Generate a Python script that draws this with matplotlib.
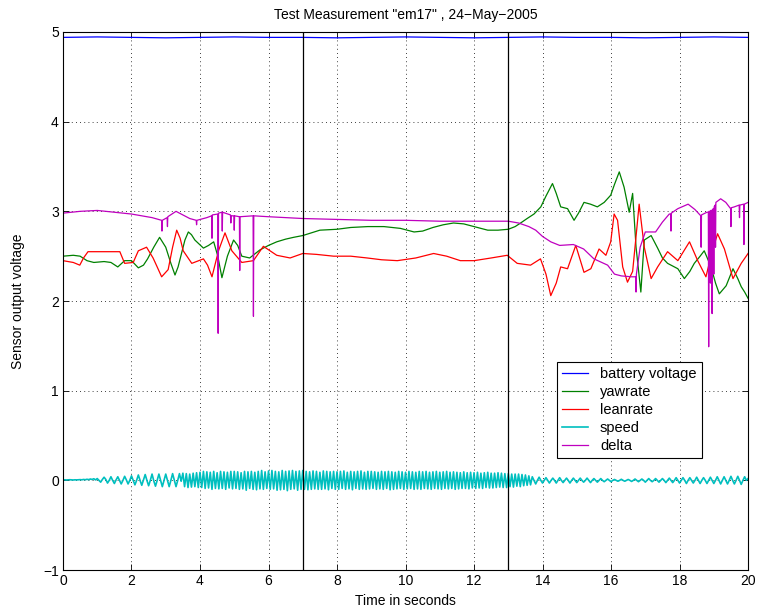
import numpy as np
import matplotlib
matplotlib.use("Agg")
import matplotlib.pyplot as plt

plt.rcParams['font.family'] = ['Liberation Sans', 'DejaVu Sans']

# ---- measurement traces (time in s, voltage in V) ----
battery_t = [0, 1, 2, 3, 4, 5, 6, 7, 8, 9, 10, 11, 12, 13, 14, 15, 16, 17, 18, 19, 20]
battery_v = [4.94, 4.945, 4.94, 4.935, 4.94, 4.945, 4.94, 4.94, 4.935, 4.94, 4.945,
             4.94, 4.935, 4.94, 4.945, 4.94, 4.94, 4.935, 4.94, 4.945, 4.94]

yaw_t = [0, 0.3, 0.5, 0.7, 0.9, 1.2, 1.4, 1.6, 1.8, 2.0, 2.2, 2.35, 2.47, 2.65, 2.82, 3.0,
         3.15, 3.27, 3.36, 3.46, 3.56, 3.66, 3.75, 3.85, 4.1, 4.25, 4.4, 4.52, 4.64, 4.8,
         4.98, 5.1, 5.22, 5.45, 5.75, 6.0, 6.24, 6.5, 6.73, 7.0, 7.5, 8.0, 8.4, 8.9,
         9.37, 9.85, 10.25, 10.5, 10.8, 11.1, 11.4, 11.7, 12.0, 12.4, 12.7, 13.0, 13.2,
         13.36, 13.55, 13.75, 13.95, 14.1, 14.29, 14.4, 14.53, 14.73, 14.92, 15.05,
         15.21, 15.4, 15.6, 15.8, 15.99, 16.1, 16.24, 16.38, 16.53, 16.63, 16.73, 16.87,
         16.97, 17.17, 17.36, 17.5, 17.65, 17.95, 18.14, 18.3, 18.43, 18.6, 18.72, 18.92,
         19.05, 19.16, 19.36, 19.56, 19.7, 19.8, 19.9, 20.0]
yaw_v = [2.50, 2.51, 2.50, 2.45, 2.43, 2.44, 2.43, 2.38, 2.45, 2.45, 2.37, 2.40, 2.47,
         2.60, 2.71, 2.60, 2.42, 2.29, 2.38, 2.53, 2.68, 2.77, 2.74, 2.68, 2.59, 2.62,
         2.66, 2.50, 2.26, 2.50, 2.68, 2.62, 2.50, 2.48, 2.57, 2.62, 2.66, 2.69, 2.71,
         2.73, 2.79, 2.80, 2.82, 2.83, 2.83, 2.81, 2.77, 2.78, 2.82, 2.85, 2.87, 2.86,
         2.83, 2.79, 2.79, 2.80, 2.83, 2.87, 2.92, 2.97, 3.05, 3.17, 3.31, 3.20, 3.05,
         3.03, 2.90, 2.98, 3.10, 3.08, 3.05, 3.10, 3.18, 3.30, 3.44, 3.27, 2.99, 3.20,
         2.60, 2.10, 2.68, 2.73, 2.59, 2.48, 2.42, 2.36, 2.25, 2.33, 2.42, 2.50, 2.56,
         2.38, 2.20, 2.08, 2.17, 2.36, 2.25, 2.16, 2.10, 2.03]

lean_t = [0, 0.3, 0.49, 0.6, 0.73, 1.2, 1.66, 1.8, 2.05, 2.2, 2.44, 2.63, 2.75, 2.88,
          3.07, 3.2, 3.32, 3.42, 3.51, 3.76, 4.1, 4.22, 4.35, 4.54, 4.73, 4.93, 5.22,
          5.56, 5.85, 6.24, 6.63, 7.0, 7.4, 7.9, 8.4, 8.88, 9.3, 9.76, 10.3, 10.82, 11.2,
          11.6, 12.0, 12.5, 12.97, 13.26, 13.65, 13.94, 14.1, 14.24, 14.4, 14.53, 14.73,
          14.97, 15.21, 15.41, 15.65, 15.85, 15.99, 16.09, 16.19, 16.34, 16.48, 16.63,
          16.75, 16.82, 16.97, 17.17, 17.36, 17.65, 17.95, 18.29, 18.53, 18.77, 18.95,
          19.11, 19.31, 19.56, 19.8, 20.0]
lean_v = [2.45, 2.43, 2.40, 2.48, 2.55, 2.55, 2.55, 2.42, 2.43, 2.56, 2.60, 2.48, 2.38,
          2.27, 2.35, 2.60, 2.79, 2.70, 2.56, 2.42, 2.47, 2.40, 2.27, 2.56, 2.76, 2.56,
          2.43, 2.45, 2.61, 2.51, 2.48, 2.53, 2.52, 2.50, 2.50, 2.48, 2.46, 2.45, 2.48,
          2.53, 2.50, 2.45, 2.45, 2.48, 2.51, 2.42, 2.40, 2.47, 2.30, 2.06, 2.20, 2.38,
          2.36, 2.62, 2.32, 2.36, 2.58, 2.51, 2.66, 2.97, 2.90, 2.38, 2.21, 2.33, 2.80,
          3.08, 2.60, 2.25, 2.38, 2.55, 2.45, 2.66, 2.45, 2.27, 2.55, 2.75, 2.58, 2.25,
          2.42, 2.53]

delta_t = [0, 0.5, 1.0, 1.5, 2.0, 2.3, 2.6, 2.88, 2.89, 2.90, 3.04, 3.05, 3.06, 3.3,
           3.5, 3.7, 3.89, 3.90, 3.91, 4.2, 4.34, 4.35, 4.36, 4.52, 4.53, 4.54, 4.64,
           4.65, 4.66, 4.89, 4.90, 4.91, 4.99, 5.00, 5.01, 5.15, 5.16, 5.17, 5.55, 5.56,
           5.57, 6.0, 6.5, 7.0, 8.0, 9.0, 10.0, 11.0, 12.0, 13.0, 13.3, 13.6, 13.8,
           14.0, 14.24, 14.5, 14.9, 15.2, 15.5, 15.9, 16.1, 16.3, 16.6, 16.72, 16.73,
           16.74, 16.85, 17.0, 17.3, 17.5, 17.7, 17.74, 17.75, 17.76, 17.95, 18.25,
           18.45, 18.62, 18.63, 18.64, 18.8, 18.84, 18.85, 18.86, 18.89, 18.90, 18.91,
           18.94, 18.95, 18.96, 18.99, 19.00, 19.01, 19.04, 19.05, 19.06, 19.2, 19.35,
           19.49, 19.50, 19.51, 19.6, 19.74, 19.75, 19.76, 19.87, 19.88, 19.89, 20.0]
delta_v = [2.98, 3.00, 3.01, 2.99, 2.97, 2.95, 2.93, 2.90, 2.78, 2.90, 2.93, 2.83, 2.94,
           3.00, 2.96, 2.92, 2.90, 2.85, 2.90, 2.93, 2.95, 2.70, 2.96, 2.97, 1.64, 2.98,
           2.99, 2.78, 2.99, 2.96, 2.87, 2.95, 2.95, 2.79, 2.95, 2.94, 2.34, 2.94, 2.95,
           1.83, 2.95, 2.94, 2.93, 2.92, 2.91, 2.90, 2.90, 2.89, 2.89, 2.89, 2.87, 2.83,
           2.79, 2.72, 2.66, 2.62, 2.63, 2.58, 2.47, 2.40, 2.30, 2.28, 2.27, 2.27, 2.10,
           2.30, 2.60, 2.77, 2.77, 2.88, 2.97, 2.97, 2.78, 2.98, 3.03, 3.08, 3.02, 2.95,
           2.60, 2.96, 2.99, 2.99, 1.49, 3.00, 3.00, 2.20, 3.01, 3.01, 1.86, 3.02, 3.03,
           2.30, 3.05, 3.07, 2.60, 3.10, 3.14, 3.10, 3.03, 2.83, 3.04, 3.05, 3.07, 2.93,
           3.07, 3.08, 2.63, 3.08, 3.10]

# speed trace, sampled every 0.05 s (one row per second)
speed_rows = [
    [0.005, 0.006, 0.004, 0.005, 0.007, 0.005, 0.004, 0.006, 0.005, 0.006,
     0.008, 0.006, 0.010, 0.007, 0.012, 0.008, 0.015, 0.010, 0.018, 0.005],
    [0.020, 0.000, -0.020, 0.010, 0.035, 0.010, -0.030, 0.000, 0.040, 0.000,
     -0.035, 0.005, 0.040, 0.000, -0.040, 0.000, 0.045, 0.005, -0.040, 0.000],
    [0.050, 0.000, -0.050, 0.000, 0.060, 0.000, -0.055, 0.005, 0.065, 0.000,
     -0.060, 0.000, 0.070, -0.005, -0.065, 0.000, 0.070, 0.000, -0.070, 0.000],
    [0.070, 0.000, -0.070, 0.000, 0.075, 0.000, -0.070, 0.000, 0.075, -0.010,
     0.080, -0.070, 0.075, -0.080, 0.070, -0.075, 0.080, -0.070, 0.085, -0.080],
    [0.090, -0.080, 0.100, -0.090, 0.095, -0.085, 0.090, -0.100, 0.100, -0.090,
     0.085, -0.095, 0.100, -0.090, 0.095, -0.100, 0.090, -0.085, 0.100, -0.095],
    [0.100, -0.090, 0.095, -0.100, 0.085, -0.095, 0.100, -0.110, 0.095, -0.090,
     0.100, -0.100, 0.090, -0.105, 0.100, -0.095, 0.110, -0.100, 0.095, -0.090],
    [0.105, -0.100, 0.110, -0.095, 0.100, -0.110, 0.095, -0.105, 0.110, -0.100,
     0.100, -0.115, 0.105, -0.100, 0.110, -0.095, 0.100, -0.110, 0.105, -0.100],
    [0.110, -0.100, 0.100, -0.105, 0.095, -0.100, 0.105, -0.095, 0.100, -0.100,
     0.090, -0.100, 0.105, -0.095, 0.100, -0.105, 0.095, -0.090, 0.100, -0.100],
    [0.095, -0.100, 0.100, -0.090, 0.105, -0.100, 0.090, -0.095, 0.100, -0.105,
     0.095, -0.090, 0.100, -0.100, 0.105, -0.095, 0.090, -0.100, 0.100, -0.095],
    [0.100, -0.090, 0.095, -0.100, 0.090, -0.095, 0.100, -0.100, 0.095, -0.090,
     0.100, -0.105, 0.095, -0.100, 0.090, -0.095, 0.100, -0.090, 0.095, -0.100],
    [0.090, -0.095, 0.100, -0.090, 0.095, -0.100, 0.090, -0.095, 0.100, -0.100,
     0.095, -0.090, 0.100, -0.095, 0.090, -0.100, 0.095, -0.090, 0.100, -0.095],
    [0.090, -0.100, 0.095, -0.090, 0.100, -0.095, 0.090, -0.090, 0.095, -0.100,
     0.090, -0.095, 0.085, -0.090, 0.095, -0.090, 0.085, -0.095, 0.090, -0.085],
    [0.085, -0.090, 0.090, -0.085, 0.080, -0.090, 0.085, -0.080, 0.090, -0.085,
     0.080, -0.085, 0.080, -0.080, 0.085, -0.075, 0.080, -0.080, 0.075, -0.080],
    [0.075, -0.070, 0.070, -0.075, 0.070, -0.065, 0.070, -0.070, 0.065, -0.060,
     0.060, -0.055, 0.050, -0.050, 0.040, 0.000, -0.040, 0.000, 0.035, 0.000],
    [-0.030, 0.000, 0.030, 0.000, -0.030, 0.000, 0.025, 0.000, -0.030, 0.000,
     0.030, 0.000, -0.025, 0.000, 0.025, 0.000, -0.030, 0.000, 0.025, 0.000],
    [-0.025, 0.000, 0.025, 0.000, -0.020, 0.000, 0.025, 0.000, -0.025, 0.000,
     0.020, 0.000, -0.020, 0.000, 0.020, 0.000, -0.015, 0.000, 0.015, 0.000],
    [-0.015, 0.000, 0.010, 0.000, -0.010, 0.000, 0.012, 0.000, -0.010, 0.000,
     0.010, 0.000, -0.012, 0.000, 0.015, 0.000, -0.015, 0.000, 0.015, 0.000],
    [-0.020, 0.000, 0.020, 0.000, -0.015, 0.000, 0.020, 0.000, -0.020, 0.000,
     0.020, 0.000, -0.025, 0.000, 0.025, 0.000, -0.025, 0.000, 0.030, 0.000],
    [-0.030, 0.000, 0.030, 0.000, -0.035, 0.000, 0.030, 0.000, -0.030, 0.000,
     0.035, 0.000, -0.035, 0.000, 0.030, 0.000, -0.035, 0.000, 0.035, 0.000],
    [-0.035, 0.000, 0.040, 0.000, -0.040, 0.000, 0.040, 0.000, -0.040, 0.000,
     0.045, 0.000, -0.040, 0.000, 0.045, 0.000, -0.045, 0.000, 0.040, 0.000],
]
speed_end = 0.02

# manoeuvre boundaries
event_t = [7, 13]

series_labels = ['battery voltage', 'yawrate', 'leanrate', 'speed', 'delta']
series_colors = ['#0000ff', '#008000', '#ff0000', '#00bfbf', '#bf00bf']

speed_v = np.array([v for row in speed_rows for v in row] + [speed_end])
speed_t = np.arange(len(speed_v)) * 0.05

fig = plt.figure(figsize=(7.57, 6.13), dpi=100)
ax = fig.add_axes([0.0832, 0.0701, 0.9050, 0.8777])

lw = 0.9
ax.plot(battery_t, battery_v, color=series_colors[0], lw=lw, label=series_labels[0])
ax.plot(yaw_t, yaw_v, color=series_colors[1], lw=lw, label=series_labels[1])
ax.plot(lean_t, lean_v, color=series_colors[2], lw=lw, label=series_labels[2])
ax.plot(speed_t, speed_v, color=series_colors[3], lw=1.2, label=series_labels[3])
ax.plot(delta_t, delta_v, color=series_colors[4], lw=lw, label=series_labels[4])

for t in event_t:
    ax.axvline(t, color='k', lw=0.9)

ax.set_xlim(0, 20)
ax.set_ylim(-1, 5)
ax.set_xticks(np.arange(0, 21, 2))
ax.set_yticks(np.arange(-1, 6, 1))
ax.set_yticklabels(['\u22121', '0', '1', '2', '3', '4', '5'])

ax.grid(True, color='k', linestyle=(0, (1, 4)), linewidth=0.6)
ax.tick_params(direction='in', top=True, right=True, length=4, width=0.6,
               labelsize=10, pad=3)
for s in ax.spines.values():
    s.set_linewidth(0.8)

ax.set_title('Test Measurement "em17" , 24\u2212May\u22122005', fontsize=10, pad=9)
ax.set_xlabel('Time in seconds', fontsize=10, labelpad=4)
ax.set_ylabel('Sensor output voltage', fontsize=10, labelpad=13)

leg = ax.legend(loc='upper left', bbox_to_anchor=(0.721, 0.387), fontsize=10.5,
                fancybox=False, edgecolor='k', framealpha=1, handlelength=1.8,
                handletextpad=0.8, labelspacing=0.28, borderpad=0.35,
                borderaxespad=0)
leg.get_frame().set_linewidth(0.8)

fig.savefig('out.png', dpi=100)
